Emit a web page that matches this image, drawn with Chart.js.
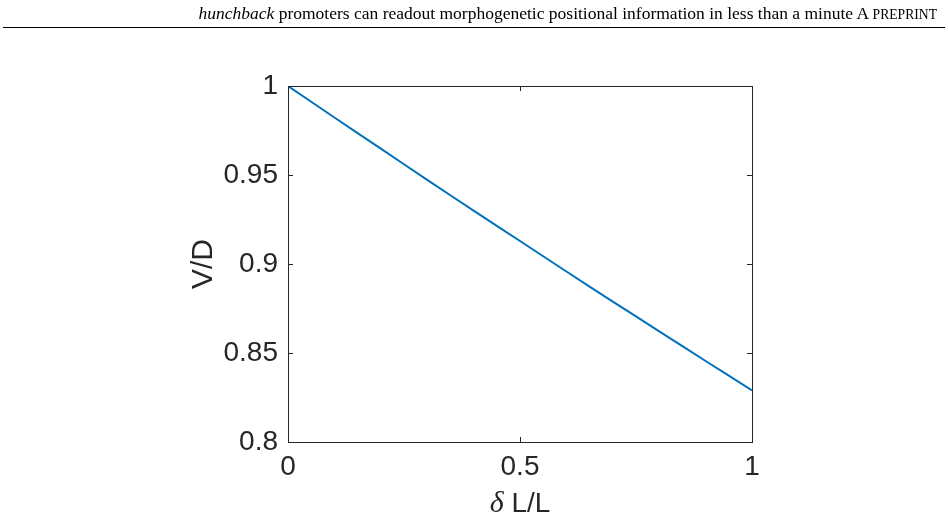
<!DOCTYPE html>
<html>
<head>
<meta charset="utf-8">
<script src="https://cdn.jsdelivr.net/npm/chart.js@4.4.1/dist/chart.umd.min.js"></script>
<style>
  body { margin: 0; background: #fff; }
  #wrap { position: relative; width: 948px; height: 522px; }
  #header {
    position: absolute; right: 11px; top: 3px;
    font-family: "Liberation Serif", "Times New Roman", serif;
    font-size: 17.5px; color: #000; white-space: nowrap;
  }
  #header .sc { font-size: 0.78em; text-transform: uppercase; }
  #rule { position: absolute; left: 3px; right: 3px; top: 27px; height: 0; border-top: 1px solid #000; }
  canvas { position: absolute; left: 0; top: 0; }
</style>
</head>
<body>
<div id="wrap">
  <canvas id="vdChart" width="948" height="522"></canvas>
  <div id="header"><i>hunchback</i> promoters can readout morphogenetic positional information in less than a minute A <span class="sc">preprint</span></div>
  <div id="rule"></div>
</div>
<script>
// delta L / L and the ratio V/D
var deltaL = [0, 0.1, 0.2, 0.3, 0.4, 0.5, 0.6, 0.7, 0.8, 0.9, 1.0];
var ratioVD = [1.000, 0.9823, 0.9648, 0.9473, 0.9300, 0.9129, 0.8958, 0.8789, 0.8622, 0.8455, 0.8290];

var xTicks = [0, 0.5, 1];
var yTicks = [0.8, 0.85, 0.9, 0.95, 1];

var axisColor = '#262626';
var sans = '"Liberation Sans", Arial, sans-serif';

function fmt(v) {
    return String(+(+v).toFixed(2));
}

// matlab style ticks pointing into the box
var innerTicks = {
    id: 'innerTicks',
    afterDraw: function (chart) {
        var ctx = chart.ctx;
        var area = chart.chartArea;
        var len = 5;
        ctx.save();
        ctx.strokeStyle = axisColor;
        ctx.lineWidth = 1;
        ctx.beginPath();
        for (let v of xTicks) {
            let px = Math.round(chart.scales.x.getPixelForValue(v)) + 0.5;
            ctx.moveTo(px, area.bottom);
            ctx.lineTo(px, area.bottom - len);
            ctx.moveTo(px, area.top);
            ctx.lineTo(px, area.top + len);
        }
        for (let v of yTicks) {
            let py = Math.round(chart.scales.y.getPixelForValue(v)) + 0.5;
            ctx.moveTo(area.left, py);
            ctx.lineTo(area.left + len, py);
            ctx.moveTo(area.right, py);
            ctx.lineTo(area.right - len, py);
        }
        ctx.stroke();

        // x axis title: italic serif delta, then L/L
        var cx = (area.left + area.right) / 2;
        var cy = 504;
        ctx.fillStyle = axisColor;
        ctx.textBaseline = 'middle';
        ctx.font = 'italic 30px "Liberation Serif", serif';
        var w1 = ctx.measureText('\u03b4').width;
        ctx.font = '28px ' + sans;
        var w2 = ctx.measureText(' L/L').width;
        var x0 = cx - (w1 + w2) / 2;
        ctx.font = 'italic 30px "Liberation Serif", serif';
        ctx.textAlign = 'left';
        ctx.fillText('\u03b4', x0, cy);
        ctx.font = '28px ' + sans;
        ctx.fillText(' L/L', x0 + w1, cy);
        ctx.restore();
    }
};

var points = [];
for (let i = 0; i < deltaL.length; i++) {
    points.push({ x: deltaL[i], y: ratioVD[i] });
}

var ctx1 = document.getElementById('vdChart');
var vdChart = new Chart(ctx1, {
    type: 'line',
    data: {
        datasets: [{
            data: points,
            borderColor: '#0072BD',
            borderWidth: 2,
            pointRadius: 0,
            fill: false,
            tension: 0.3
        }]
    },
    options: {
        responsive: false,
        animation: false,
        layout: { padding: { left: 180, top: 60, right: 0, bottom: 0 } },
        plugins: {
            legend: { display: false },
            tooltip: { enabled: false }
        },
        scales: {
            x: {
                type: 'linear',
                position: 'bottom',
                min: 0, max: 1,
                afterBuildTicks: function (s) { s.ticks = xTicks.map(v => ({ value: v })); },
                afterFit: function (s) { s.height = 80; },
                grid: { drawOnChartArea: false, drawTicks: false },
                border: { color: axisColor, width: 1 },
                ticks: {
                    padding: 8,
                    color: axisColor,
                    font: { family: sans, size: 28 },
                    maxRotation: 0,
                    callback: fmt
                }
            },
            xTop: {
                type: 'linear',
                position: 'top',
                min: 0, max: 1,
                afterFit: function (s) { s.height = 26; },
                grid: { drawOnChartArea: false, drawTicks: false },
                border: { color: axisColor, width: 1 },
                ticks: { display: false }
            },
            y: {
                type: 'linear',
                position: 'left',
                min: 0.8, max: 1,
                afterBuildTicks: function (s) { s.ticks = yTicks.map(v => ({ value: v })); },
                afterFit: function (s) { s.width = 108; },
                grid: { drawOnChartArea: false, drawTicks: false },
                border: { color: axisColor, width: 1 },
                title: {
                    display: true,
                    text: 'V/D',
                    color: axisColor,
                    font: { family: sans, size: 30 },
                    padding: { top: 6, bottom: 0 }
                },
                ticks: {
                    padding: 10,
                    color: axisColor,
                    font: { family: sans, size: 28 },
                    callback: fmt
                }
            },
            yRight: {
                type: 'linear',
                position: 'right',
                min: 0.8, max: 1,
                afterFit: function (s) { s.width = 196; },
                grid: { drawOnChartArea: false, drawTicks: false },
                border: { color: axisColor, width: 1 },
                ticks: { display: false }
            }
        }
    },
    plugins: [innerTicks]
});
</script>
</body>
</html>
